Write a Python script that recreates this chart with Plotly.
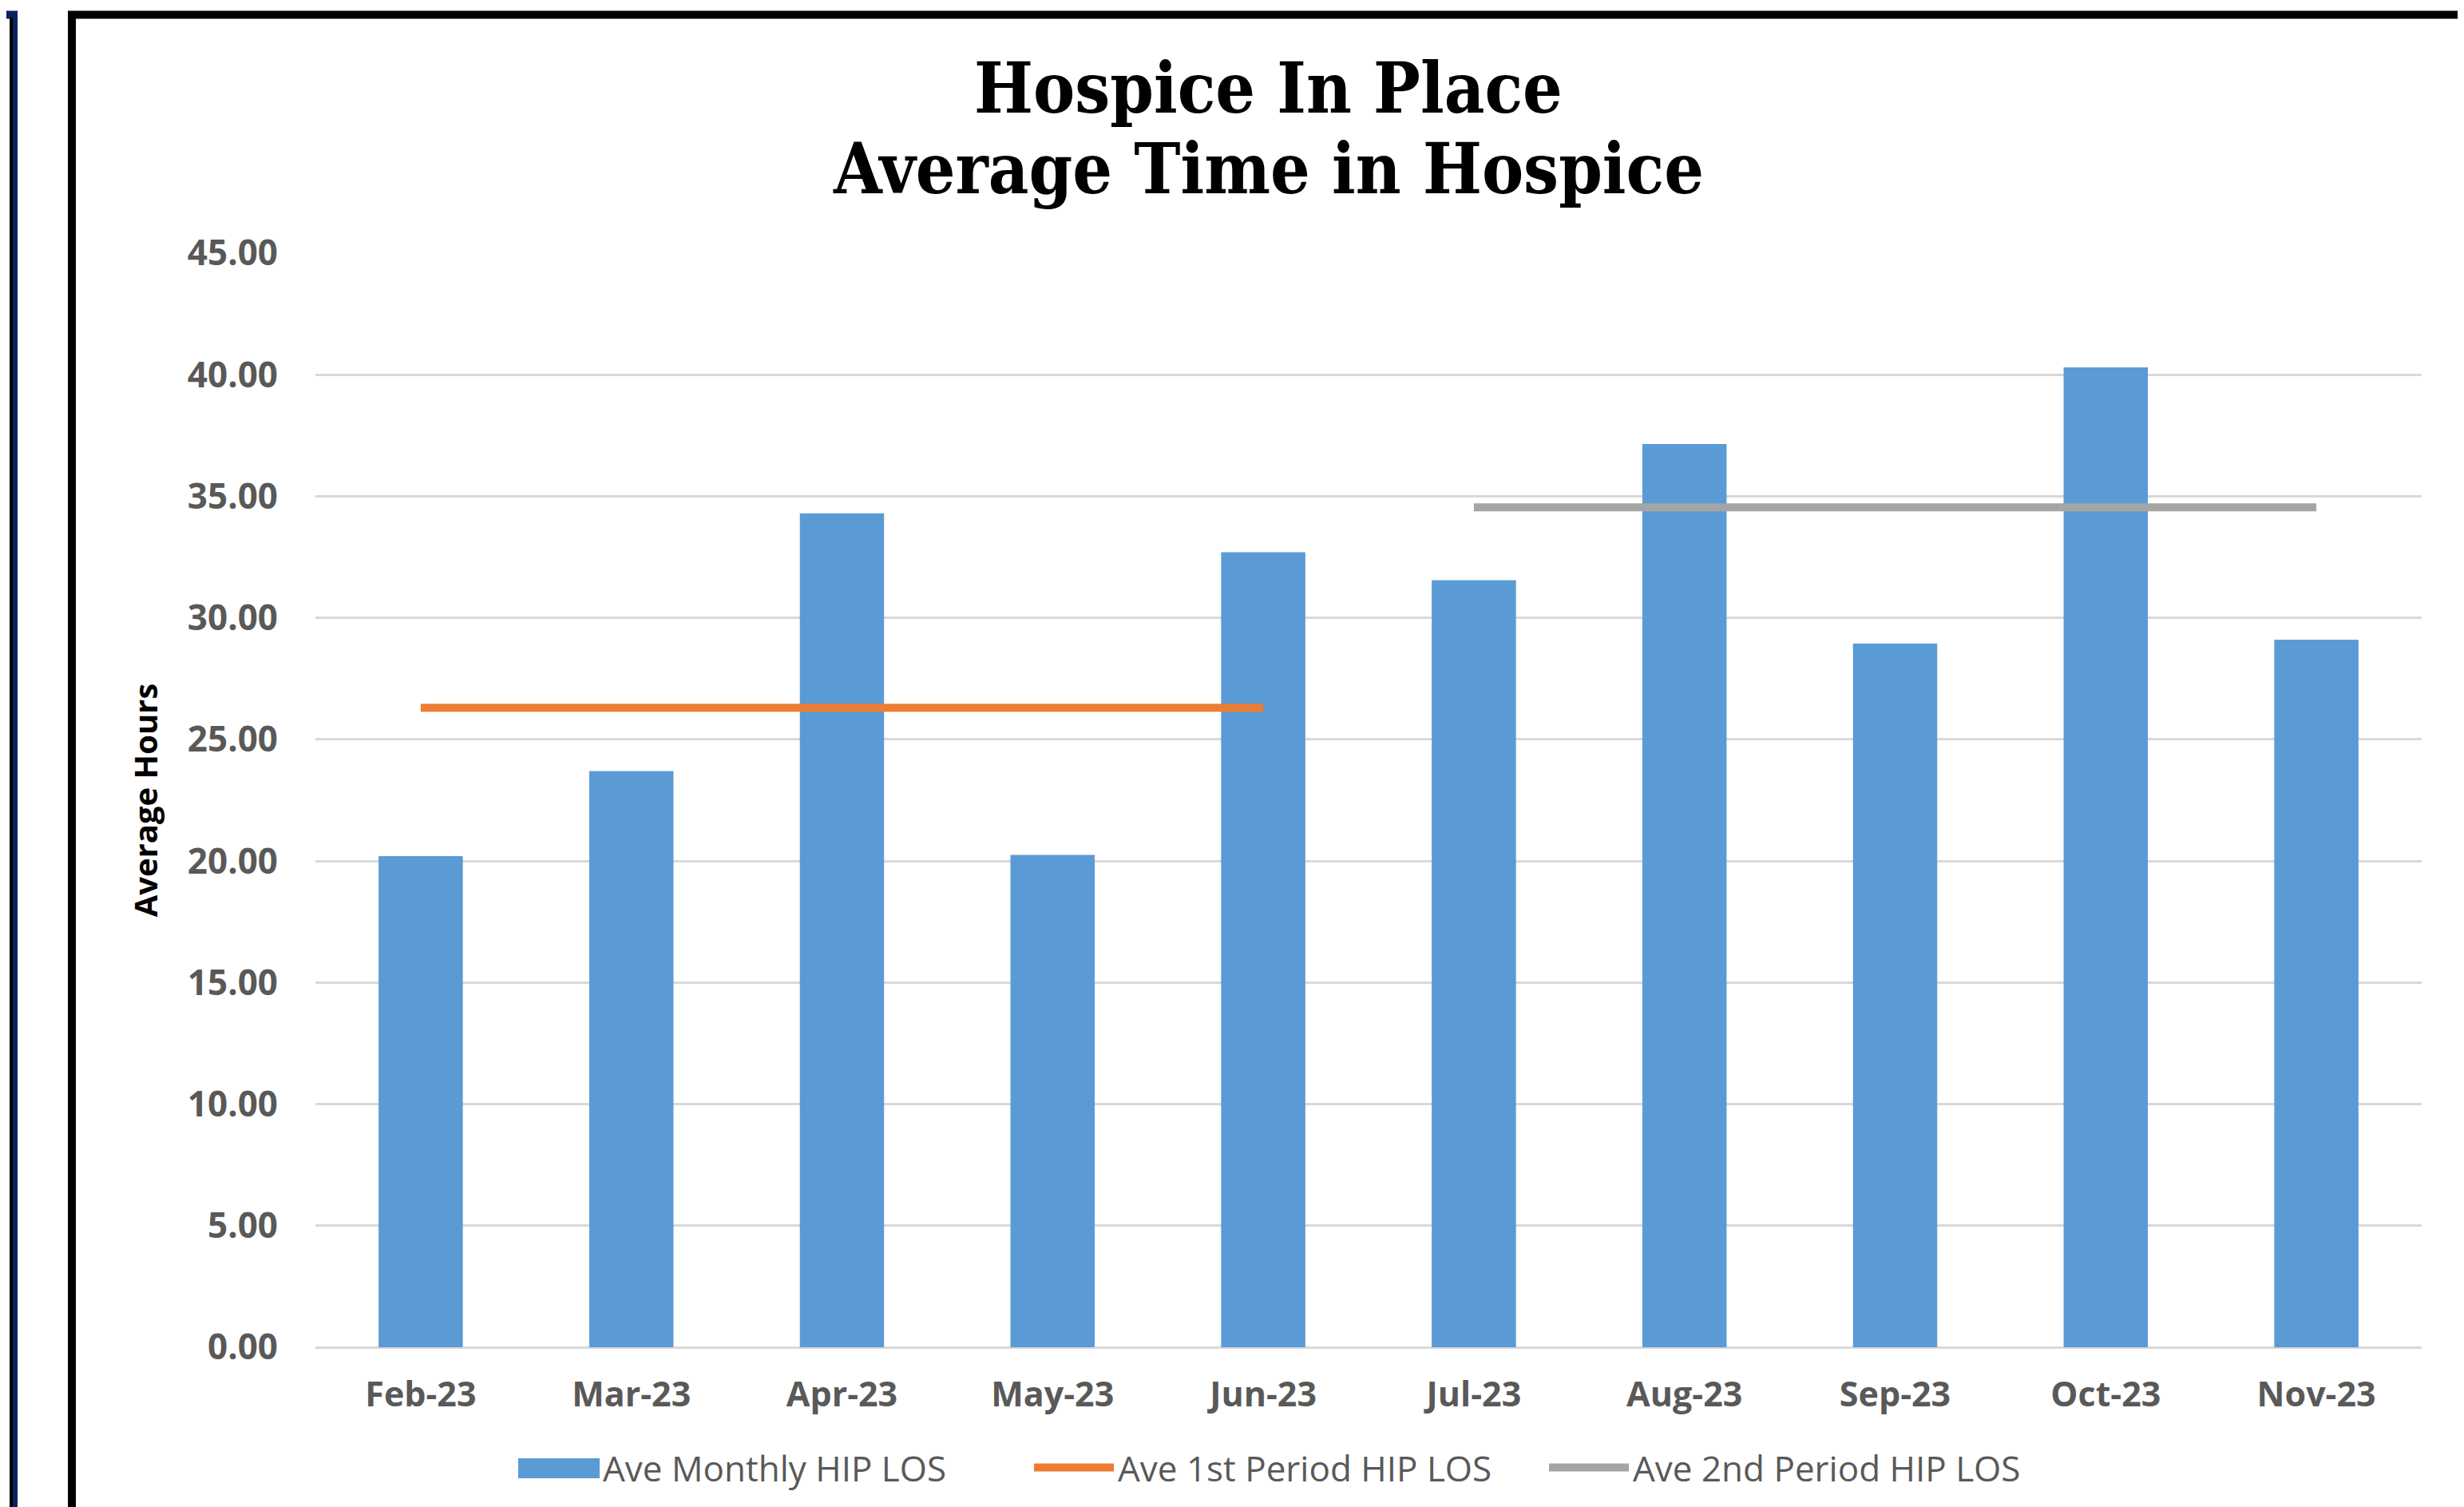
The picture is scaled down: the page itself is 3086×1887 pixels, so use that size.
import plotly.graph_objects as go

months = ["Feb-23", "Mar-23", "Apr-23", "May-23", "Jun-23",
          "Jul-23", "Aug-23", "Sep-23", "Oct-23", "Nov-23"]
monthly_los = [20.2, 23.7, 34.3, 20.25, 32.7, 31.55, 37.15, 28.95, 40.3, 29.1]
period1_los = [26.3, 26.3, 26.3, 26.3, 26.3, None, None, None, None, None]
period2_los = [None, None, None, None, None, 34.55, 34.55, 34.55, 34.55, 34.55]
y_ticks = [0, 5, 10, 15, 20, 25, 30, 35, 40, 45]
y_tick_labels = ["0.00", "5.00", "10.00", "15.00", "20.00", "25.00",
                 "30.00", "35.00", "40.00", "45.00"]
title_lines = ["Hospice In Place", "Average Time in Hospice"]

W, H = 3086, 1887
OFF = 8  # page body margin
L, R, T, B = 387, 61, 309, 208
PW, PH = W - L - R, H - T - B


def px_x(px):
    return (px - OFF - L) / PW


def px_y(py):
    return (H - B - (py - OFF)) / PH


BLUE, ORANGE, GRAY = "#5B9BD5", "#ED7D31", "#A5A5A5"

fig = go.Figure()
fig.add_trace(go.Bar(
    x=months, y=monthly_los, name="Ave Monthly HIP LOS",
    marker=dict(color=BLUE, line=dict(width=0)), showlegend=False,
))
# legend-only entry (swatch widened below to look like the reference box)
fig.add_trace(go.Scatter(
    x=[None], y=[None], name="Ave Monthly HIP LOS",
    mode="lines", line=dict(color=BLUE, width=10),
))
fig.add_trace(go.Scatter(
    x=months, y=period1_los, name="Ave 1st Period HIP LOS",
    mode="lines", line=dict(color=ORANGE, width=10),
))
fig.add_trace(go.Scatter(
    x=months, y=period2_los, name="Ave 2nd Period HIP LOS",
    mode="lines", line=dict(color=GRAY, width=10),
))

title_font = dict(family="DejaVu Serif Condensed, DejaVu Serif", size=87,
                  color="black")
annotations = [
    dict(text=f"<b>{title_lines[0]}</b>", x=px_x(1588), y=px_y(110),
         xref="paper", yref="paper", xanchor="center", yanchor="middle",
         showarrow=False, font=title_font),
    dict(text=f"<b>{title_lines[1]}</b>", x=px_x(1588), y=px_y(211),
         xref="paper", yref="paper", xanchor="center", yanchor="middle",
         showarrow=False, font=title_font),
]

fig.update_layout(
    width=W, height=H,
    paper_bgcolor="white", plot_bgcolor="white",
    margin=dict(l=L, r=R, t=T, b=B, autoexpand=False),
    bargap=0.6,
    annotations=annotations,
    legend=dict(
        orientation="h", xref="container", x=(645 - OFF) / W, xanchor="left",
        yref="container", y=1 - (1838 - OFF) / H, yanchor="middle",
        font=dict(family="Open Sans", size=44, color="#595959"),
        itemwidth=100, entrywidth=530, entrywidthmode="pixels",
        bgcolor="rgba(0,0,0,0)",
    ),
    showlegend=True,
)

fig.update_xaxes(
    showgrid=False, showline=False, zeroline=False,
    tickfont=dict(family="Open Sans", size=43, color="#595959", weight="bold"),
    ticklabelstandoff=30,
)
fig.update_yaxes(
    range=[0, 45], tickvals=y_ticks, ticktext=y_tick_labels,
    showgrid=True, gridcolor="#D9D9D9", gridwidth=3,
    zeroline=True, zerolinecolor="#D9D9D9", zerolinewidth=3,
    showline=False,
    tickfont=dict(family="Open Sans", size=44, color="#595959", weight="bold"),
    ticklabelstandoff=46,
    title=dict(text="<b>Average Hours</b>",
               font=dict(family="Open Sans", size=40, color="black"),
               standoff=24),
)

# wider swatch for the bar series' legend entry
fig.add_shape(type="rect", xref="paper", yref="paper",
              x0=px_x(649), x1=px_x(751), y0=px_y(1851), y1=px_y(1826),
              fillcolor=BLUE, line=dict(width=0), layer="above")
# frame around the chart
fig.add_shape(type="path", xref="paper", yref="paper",
              path=f"M {px_x(90)} {px_y(1900)} L {px_x(90)} {px_y(18.5)} "
                   f"L {px_x(3087)} {px_y(18.5)} L {px_x(3087)} {px_y(1900)}",
              line=dict(color="black", width=10), layer="above")
# edge of the neighbouring panel on the left
fig.add_shape(type="path", xref="paper", yref="paper",
              path=f"M {px_x(0)} {px_y(18.5)} L {px_x(17)} {px_y(18.5)} "
                   f"L {px_x(17)} {px_y(1900)}",
              line=dict(color="#0B2060", width=10), layer="above")
fig.add_shape(type="line", xref="paper", yref="paper",
              x0=px_x(14), x1=px_x(14), y0=px_y(22), y1=px_y(1900),
              line=dict(color="black", width=4), layer="above")

fig.write_html("out.html")
